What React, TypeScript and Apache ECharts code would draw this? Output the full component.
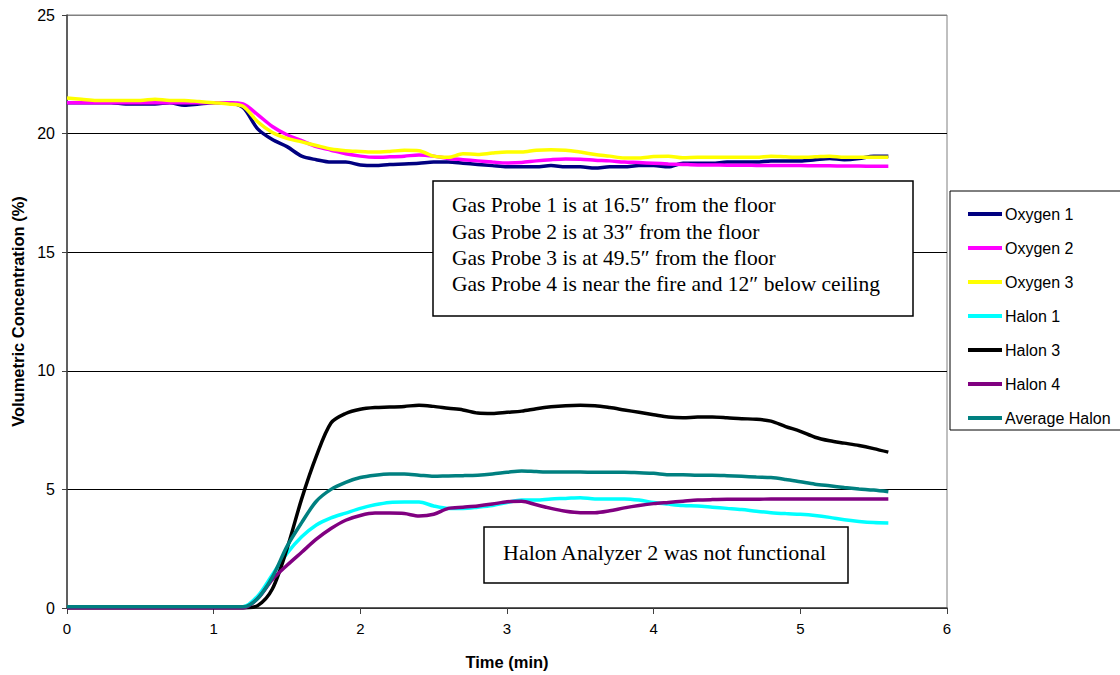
import React, { useEffect, useRef } from "react";
import * as echarts from "echarts";

const times = [
  0.0, 0.1, 0.2, 0.3, 0.4, 0.5, 0.6, 0.7, 0.8, 0.9,
  1.0, 1.1, 1.2, 1.3, 1.4, 1.5, 1.6, 1.7, 1.8, 1.9,
  2.0, 2.1, 2.2, 2.3, 2.4, 2.5, 2.6, 2.7, 2.8, 2.9,
  3.0, 3.1, 3.2, 3.3, 3.4, 3.5, 3.6, 3.7, 3.8, 3.9,
  4.0, 4.1, 4.2, 4.3, 4.4, 4.5, 4.6, 4.7, 4.8, 4.9,
  5.0, 5.1, 5.2, 5.3, 5.4, 5.5, 5.6,
];

const oxygen1 = [
  21.3, 21.3, 21.3, 21.3, 21.25, 21.25, 21.25, 21.3, 21.2, 21.25,
  21.3, 21.3, 21.1, 20.2, 19.75, 19.45, 19.05, 18.9, 18.8, 18.8,
  18.68, 18.65, 18.7, 18.72, 18.75, 18.8, 18.8, 18.75, 18.7, 18.65,
  18.6, 18.6, 18.6, 18.65, 18.6, 18.6, 18.55, 18.6, 18.6, 18.65,
  18.65, 18.6, 18.75, 18.75, 18.75, 18.8, 18.8, 18.8, 18.85, 18.85,
  18.85, 18.9, 18.95, 18.9, 18.95, 19.05, 19.05,
];

const oxygen2 = [
  21.3, 21.3, 21.3, 21.3, 21.3, 21.3, 21.3, 21.3, 21.3, 21.3,
  21.3, 21.3, 21.25, 20.8, 20.3, 19.95, 19.7, 19.45, 19.3, 19.15,
  19.05, 19.0, 19.02, 19.05, 19.1, 19.05, 18.95, 18.9, 18.85, 18.8,
  18.76, 18.78, 18.85, 18.9, 18.93, 18.92, 18.88, 18.85, 18.8, 18.78,
  18.75, 18.72, 18.7, 18.68, 18.68, 18.67, 18.67, 18.66, 18.65, 18.65,
  18.65, 18.64, 18.64, 18.63, 18.63, 18.62, 18.62,
];

const oxygen3 = [
  21.5, 21.45, 21.4, 21.4, 21.4, 21.4, 21.45, 21.4, 21.4, 21.35,
  21.3, 21.25, 21.15, 20.5, 20.05, 19.8, 19.65, 19.5, 19.35, 19.28,
  19.25, 19.22, 19.25, 19.3, 19.28, 19.05, 19.0, 19.15, 19.12, 19.18,
  19.22, 19.22, 19.3, 19.32, 19.3, 19.22, 19.12, 19.05, 18.97, 18.97,
  19.03, 19.05, 18.98, 19.0, 19.0, 19.0, 19.0, 19.0, 19.05, 19.02,
  19.0, 19.02, 19.05, 19.0, 19.0, 19.0, 19.0,
];

const halon1 = [
  0.05, 0.05, 0.05, 0.05, 0.05, 0.05, 0.05, 0.05, 0.05, 0.05,
  0.05, 0.05, 0.05, 0.5, 1.4, 2.3, 3.0, 3.5, 3.8, 4.0,
  4.2, 4.35, 4.45, 4.47, 4.47, 4.3, 4.2, 4.2, 4.25, 4.32,
  4.45, 4.55, 4.55, 4.6, 4.62, 4.65, 4.6, 4.6, 4.6, 4.55,
  4.45, 4.38, 4.32, 4.3, 4.25, 4.2, 4.15, 4.08, 4.02, 3.98,
  3.95, 3.9, 3.82, 3.72, 3.65, 3.6, 3.58,
];

const halon3 = [
  0, 0, 0, 0, 0, 0, 0, 0, 0, 0,
  0, 0, 0, 0.1, 0.8, 2.5, 4.6, 6.4, 7.8, 8.2,
  8.38, 8.45, 8.47, 8.5, 8.55, 8.5, 8.42, 8.35, 8.22, 8.2,
  8.25, 8.3, 8.4, 8.48, 8.53, 8.55, 8.53, 8.45, 8.35, 8.25,
  8.15, 8.05, 8.02, 8.05, 8.05, 8.02, 7.98, 7.96, 7.88, 7.65,
  7.45, 7.2, 7.05, 6.95, 6.85, 6.72, 6.57,
];

const halon4 = [
  0, 0, 0, 0, 0, 0, 0, 0, 0, 0,
  0, 0, 0, 0.4, 1.2, 1.8, 2.35, 2.9, 3.35, 3.7,
  3.9, 4.0, 4.0, 3.98, 3.88, 3.95, 4.2, 4.25, 4.3, 4.38,
  4.48, 4.5, 4.35, 4.2, 4.08, 4.02, 4.02, 4.1, 4.22, 4.32,
  4.4, 4.45, 4.5, 4.55, 4.57, 4.58, 4.58, 4.58, 4.6, 4.6,
  4.6, 4.6, 4.6, 4.6, 4.6, 4.6, 4.6,
];

const averageHalon = [
  0.05, 0.05, 0.05, 0.05, 0.05, 0.05, 0.05, 0.05, 0.05, 0.05,
  0.05, 0.05, 0.05, 0.4, 1.3, 2.6, 3.6, 4.5, 5.0, 5.3,
  5.5, 5.6, 5.65, 5.65, 5.6, 5.55, 5.57, 5.58, 5.6, 5.65,
  5.72, 5.78, 5.75, 5.73, 5.73, 5.73, 5.72, 5.72, 5.72, 5.7,
  5.68, 5.62, 5.62, 5.6, 5.6, 5.58, 5.55, 5.52, 5.5, 5.42,
  5.32, 5.22, 5.15, 5.08, 5.02, 4.97, 4.9,
];

const seriesNames = ["Oxygen 1", "Oxygen 2", "Oxygen 3", "Halon 1", "Halon 3", "Halon 4", "Average Halon"];
const seriesValues = [oxygen1, oxygen2, oxygen3, halon1, halon3, halon4, averageHalon];
const seriesColors = ["#000080", "#FF00FF", "#FFFF00", "#00FFFF", "#000000", "#800080", "#008080"];

const noteLines = [
  "Gas Probe 1 is at 16.5\u2033 from the floor",
  "Gas Probe 2 is at 33\u2033 from the floor",
  "Gas Probe 3 is at 49.5\u2033 from the floor",
  "Gas Probe 4 is near the fire and 12\u2033 below ceiling",
];
const halonNote = "Halon Analyzer 2 was not functional";

export default function App() {
  const ref = useRef<HTMLDivElement>(null);
  useEffect(() => {
    if (!ref.current) return;
    const chart = echarts.init(ref.current, undefined, { renderer: "svg" });
    const sans = "'Liberation Sans', Arial, sans-serif";
    const serif = "'Liberation Serif', 'Times New Roman', serif";
    chart.setOption({
      animation: false,
      backgroundColor: "#ffffff",
      grid: {
        left: 67, right: 173, top: 15, bottom: 67,
        show: true, borderColor: "#808080", borderWidth: 1,
      },
      xAxis: {
        type: "value", min: 0, max: 6, interval: 1,
        name: "Time (min)", nameLocation: "middle", nameGap: 45,
        nameTextStyle: { fontFamily: sans, fontSize: 16.5, fontWeight: "bold", color: "#000" },
        axisLine: { show: true, onZero: false, lineStyle: { color: "#404040", width: 1.5 } },
        axisTick: { show: true, length: 6, lineStyle: { color: "#404040" } },
        axisLabel: { fontFamily: sans, fontSize: 15, color: "#000", margin: 13 },
        splitLine: { show: false },
      },
      yAxis: {
        type: "value", min: 0, max: 25, interval: 5,
        name: "Volumetric Concentration (%)", nameLocation: "middle", nameGap: 41,
        nameTextStyle: { fontFamily: sans, fontSize: 16.5, fontWeight: "bold", color: "#000" },
        axisLine: { show: true, lineStyle: { color: "#404040", width: 1.5 } },
        axisTick: { show: true, length: 5, lineStyle: { color: "#404040" } },
        axisLabel: { fontFamily: sans, fontSize: 16, color: "#000", margin: 12 },
        splitLine: {
          show: true,
          lineStyle: { color: ["#000000", "#000000", "#000000", "#000000", "#000000", "#808080"], width: 1 },
        },
      },
      legend: {
        orient: "vertical", left: 963, top: 201,
        itemWidth: 34, itemHeight: 4, itemGap: 18, icon: "rect",
        textStyle: { fontFamily: sans, fontSize: 16, color: "#000", padding: [0, 0, 0, -2] },
        data: seriesNames,
      },
      series: seriesNames.map((name, i) => ({
        name, type: "line", showSymbol: false, symbol: "none",
        smooth: 0.3,
        color: seriesColors[i],
        lineStyle: { width: 3.5, color: seriesColors[i] },
        data: times.map((t, j) => [t, seriesValues[i][j]]),
      })),
      graphic: [
        {
          type: "rect", shape: { x: 950, y: 191, width: 176, height: 239 },
          style: { fill: "none", stroke: "#000", lineWidth: 1 }, z: 100,
        },
        {
          type: "rect", shape: { x: 433, y: 181, width: 480, height: 135 },
          style: { fill: "#ffffff", stroke: "#000", lineWidth: 1.5 }, z: 100,
        },
        {
          type: "text", x: 452, y: 192, z: 101,
          style: {
            text: noteLines.join("\n"), fontFamily: serif, fontSize: 21.5,
            lineHeight: 26.4, fill: "#000", verticalAlign: "top",
          },
        },
        {
          type: "rect", shape: { x: 484, y: 527, width: 364, height: 56 },
          style: { fill: "#ffffff", stroke: "#000", lineWidth: 1.5 }, z: 100,
        },
        {
          type: "text", x: 503, y: 552, z: 101,
          style: {
            text: halonNote, fontFamily: serif, fontSize: 22,
            fill: "#000", verticalAlign: "middle",
          },
        },
      ],
    });
    return () => chart.dispose();
  }, []);
  return (
    <div
      ref={ref}
      style={{ position: "fixed", left: 0, top: 0, width: 1120, height: 675, background: "#fff" }}
    />
  );
}
